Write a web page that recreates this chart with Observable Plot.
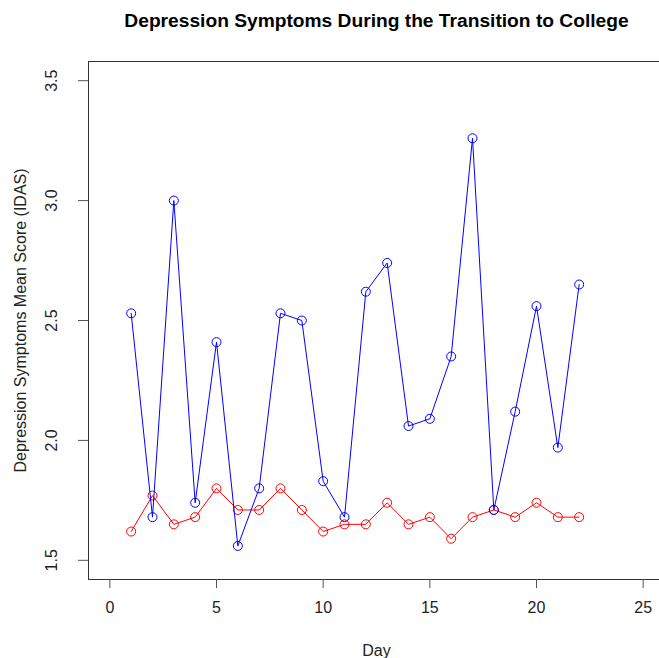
<!DOCTYPE html>
<html>
<head>
<meta charset="utf-8">
<script src="https://cdn.jsdelivr.net/npm/d3@7"></script>
<script src="https://cdn.jsdelivr.net/npm/@observablehq/plot@0.6"></script>
<style>
  html, body { margin: 0; padding: 0; background: #fff; overflow: hidden; }
  #chart svg { display: block; }
</style>
</head>
<body>
<div id="chart"></div>
<script>
const days = [1,2,3,4,5,6,7,8,9,10,11,12,13,14,15,16,17,18,19,20,21,22];
const blueValues = [2.53,1.68,3.00,1.74,2.41,1.56,1.80,2.53,2.50,1.83,1.68,2.62,2.74,2.06,2.09,2.35,3.26,1.71,2.12,2.56,1.97,2.65];
const redValues  = [1.62,1.77,1.65,1.68,1.80,1.71,1.71,1.80,1.71,1.62,1.65,1.65,1.74,1.65,1.68,1.59,1.68,1.71,1.68,1.74,1.68,1.68];
const xTicks = [0,5,10,15,20,25];
const yTicks = [1.5,2.0,2.5,3.0,3.5];
const titleText = "Depression Symptoms During the Transition to College";
const xLabel = "Day";
const yLabel = "Depression Symptoms Mean Score (IDAS)";

const blue = days.map((d,i) => ({day: d, value: blueValues[i]}));
const red = days.map((d,i) => ({day: d, value: redValues[i]}));

const font = "'Liberation Sans', Arial, Helvetica, sans-serif";

const chart = Plot.plot({
  width: 659,
  height: 658,
  marginLeft: 88,
  marginRight: -5,
  marginTop: 61,
  marginBottom: 79,
  style: {fontFamily: font, fontSize: "16px", color: "#222", background: "#fff"},
  x: {domain: [-1, 26]},
  y: {domain: [1.42, 3.58]},
  marks: [
    Plot.frame({stroke: "#333", strokeWidth: 1}),
    Plot.axisX({
      ticks: xTicks, tickFormat: d => String(d), tickSize: 9, tickPadding: 13,
      stroke: "#555", fontSize: 16,
      label: xLabel, labelAnchor: "center", labelOffset: 76, labelArrow: "none"
    }),
    Plot.axisY({
      ticks: yTicks, tickFormat: d3.format(".1f"), tickSize: 10, tickPadding: 22,
      tickRotate: -90, stroke: "#555", fontSize: 16,
      label: yLabel, labelAnchor: "center", labelOffset: 74, labelArrow: "none"
    }),
    Plot.line(red, {x: "day", y: "value", stroke: "red", strokeWidth: 1}),
    Plot.dot(red, {x: "day", y: "value", stroke: "red", r: 4.5, strokeWidth: 1, fill: "none"}),
    Plot.line(blue, {x: "day", y: "value", stroke: "blue", strokeWidth: 1}),
    Plot.dot(blue, {x: "day", y: "value", stroke: "blue", r: 4.5, strokeWidth: 1, fill: "none"}),
    Plot.text([titleText], {
      frameAnchor: "top", text: d => d, dy: -41, lineAnchor: "middle",
      fontWeight: "bold", fontSize: 19.2, fill: "#000"
    })
  ]
});
document.getElementById("chart").appendChild(chart);
</script>
</body>
</html>
